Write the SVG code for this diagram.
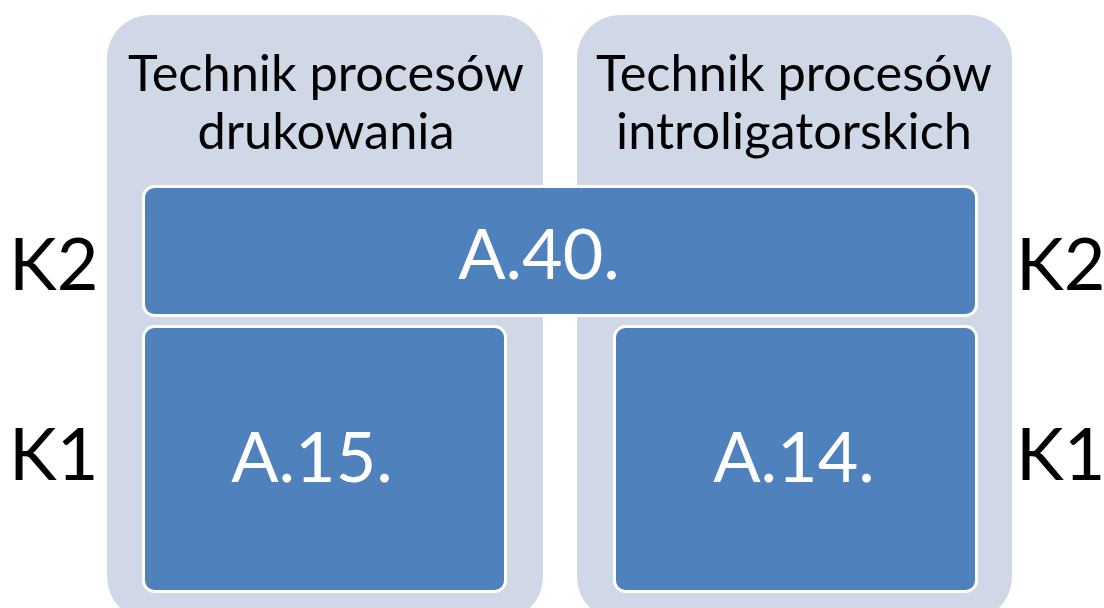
<svg xmlns="http://www.w3.org/2000/svg" width="1104" height="608" viewBox="0 0 1104 608">
<style>
.col{fill:#D0D8E8}
.box{fill:#4F81BD;stroke:#FFFFFF;stroke-width:3}
.hdr{font-family:Lato,"Noto Sans",sans-serif;font-size:50.5px;fill:#000;text-anchor:middle}
.big{font-family:Lato,"Noto Sans",sans-serif;font-size:70px;fill:#FFF;text-anchor:middle}
.lvl{font-family:Lato,"Noto Sans",sans-serif;font-size:72px;fill:#000}
</style>
<rect width="1104" height="608" fill="#FFFFFF"/>
<g id="col-druk">
<rect class="col" x="107" y="15" width="436" height="605" rx="43"/>
<text class="hdr" x="326" y="91">Technik procesów</text>
<text class="hdr" x="326" y="149">drukowania</text>
</g>
<g id="col-intro">
<rect class="col" x="577" y="15" width="435" height="605" rx="43"/>
<text class="hdr" x="794" y="91">Technik procesów</text>
<text class="hdr" x="794" y="149">introligatorskich</text>
</g>
<g id="a40">
<rect class="box" x="143.5" y="186.5" width="833" height="129" rx="11"/>
<text class="big" x="539" y="279">A.40.</text>
</g>
<g id="a15">
<rect class="box" x="143.5" y="326.5" width="362" height="265" rx="11"/>
<text class="big" x="312" y="482">A.15.</text>
</g>
<g id="a14">
<rect class="box" x="614.5" y="326.5" width="362" height="265" rx="11"/>
<text class="big" x="794" y="482">A.14.</text>
</g>
<g id="labels">
<text class="lvl" x="9" y="290">K2</text>
<text class="lvl" x="9" y="480">K1</text>
<text class="lvl" x="1016" y="290">K2</text>
<text class="lvl" x="1016" y="480">K1</text>
</g>
<g id="connectors"></g>
</svg>
